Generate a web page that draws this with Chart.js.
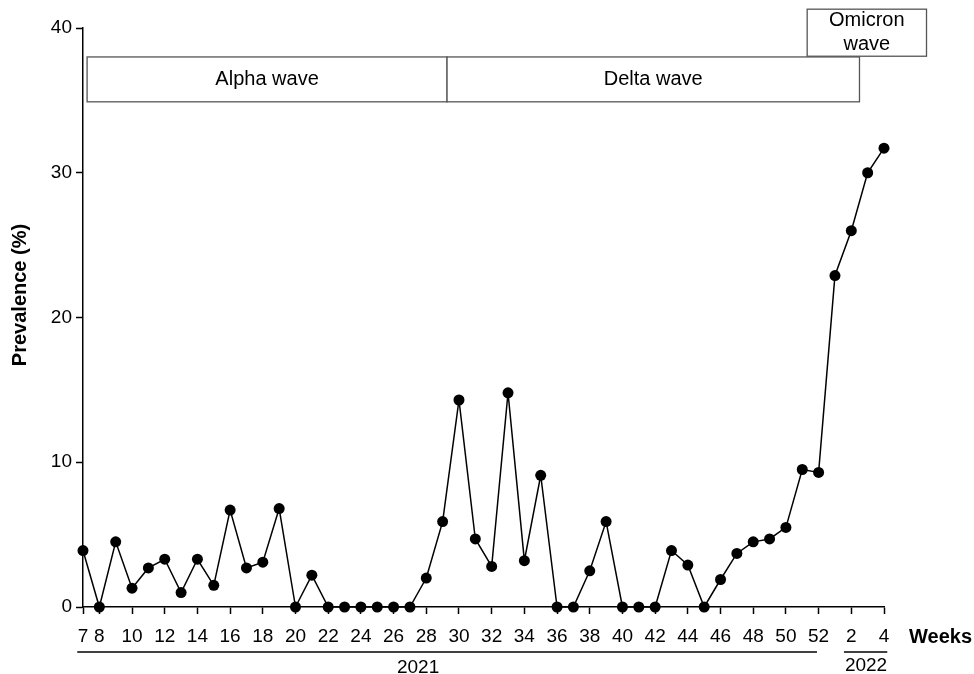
<!DOCTYPE html>
<html>
<head>
<meta charset="utf-8">
<script src="https://cdn.jsdelivr.net/npm/chart.js@4"></script>
<style>
  html, body { margin: 0; padding: 0; background: #fff; }
  #wrap { width: 974px; height: 674px; position: relative; }
</style>
</head>
<body>
<div id="wrap"><canvas id="prevChart"></canvas></div>
<script>
// Week numbers, 2021 week 7 .. 2022 week 4
const weeks = ['7','8','9','10','11','12','13','14','15','16','17','18','19','20','21','22','23','24','25','26',
  '27','28','29','30','31','32','33','34','35','36','37','38','39','40','41','42','43','44','45','46',
  '47','48','49','50','51','52','1','2','3','4'];

// Prevalence (%) per week
const prevalence = [3.9, 0, 4.5, 1.3, 2.7, 3.3, 1.0, 3.3, 1.5, 6.7, 2.7, 3.1, 6.8, 0, 2.2, 0, 0, 0, 0, 0,
  0, 2.0, 5.9, 14.3, 4.7, 2.8, 14.8, 3.2, 9.1, 0, 0, 2.5, 5.9, 0, 0, 0, 3.9, 2.9, 0, 1.9,
  3.7, 4.5, 4.7, 5.5, 9.5, 9.3, 22.9, 26.0, 30.0, 31.7];

// Which week labels get a tick + label on the x axis
const shownWeeks = ['7','8','10','12','14','16','18','20','22','24','26','28','30','32','34','36','38','40',
  '42','44','46','48','50','52','2','4'];

// Wave periods (x in week index units, y in % units)
const waveNames = ['Alpha wave', 'Delta wave', 'Omicron\nwave'];
const waveStart = [0.25, 22.27, 44.3];
const waveEnd = [22.27, 47.5, 51.6];
const waveLow = [34.9, 34.9, 38.05];
const waveHigh = [38.0, 38.0, 41.3];

// Year brackets under the x axis (week index units)
const yearNames = ['2021', '2022'];
const yearStart = [-0.35, 46.55];
const yearEnd = [44.9, 49.2];
const yearMid = [20.5, 47.9];

const FONT = '"Liberation Sans", Arial, Helvetica, sans-serif';

const annotations = {
    id: 'annotations',
    afterDraw(chart) {
        const ctx = chart.ctx;
        const xs = chart.scales.x;
        const ys = chart.scales.y;
        ctx.save();

        // wave boxes
        ctx.font = '20px ' + FONT;
        ctx.textAlign = 'center';
        ctx.textBaseline = 'middle';
        for (let i = 0; i < waveNames.length; i++) {
            const x1 = xs.getPixelForValue(waveStart[i]);
            const x2 = xs.getPixelForValue(waveEnd[i]);
            const y1 = ys.getPixelForValue(waveHigh[i]);
            const y2 = ys.getPixelForValue(waveLow[i]);
            ctx.fillStyle = '#fff';
            ctx.fillRect(x1, y1, x2 - x1, y2 - y1);
            ctx.strokeStyle = '#555';
            ctx.lineWidth = 1.3;
            ctx.strokeRect(x1, y1, x2 - x1, y2 - y1);
            ctx.fillStyle = '#000';
            const lines = waveNames[i].split('\n');
            const cx = (x1 + x2) / 2;
            const cy = (y1 + y2) / 2;
            lines.forEach((t, k) => {
                ctx.fillText(t, cx, cy + (k - (lines.length - 1) / 2) * 24);
            });
        }

        // year brackets
        const lineY = 652;
        ctx.strokeStyle = '#000';
        ctx.lineWidth = 1.3;
        for (let i = 0; i < yearNames.length; i++) {
            const x1 = xs.getPixelForValue(yearStart[i]);
            const x2 = xs.getPixelForValue(yearEnd[i]);
            ctx.beginPath();
            ctx.moveTo(x1, lineY);
            ctx.lineTo(x2, lineY);
            ctx.stroke();
        }
        ctx.fillStyle = '#000';
        ctx.font = '19px ' + FONT;
        ctx.textBaseline = 'middle';
        ctx.fillText(yearNames[0], xs.getPixelForValue(yearMid[0]), 668);
        ctx.fillText(yearNames[1], xs.getPixelForValue(yearMid[1]), 666);

        // axis titles
        ctx.font = 'bold 20px ' + FONT;
        ctx.textAlign = 'left';
        ctx.fillText('Weeks', 909, 637);

        ctx.translate(20, 295);
        ctx.rotate(-Math.PI / 2);
        ctx.textAlign = 'center';
        ctx.fillText('Prevalence (%)', 0, 0);
        ctx.restore();
    }
};

const tickColor = (c) => shownWeeks.includes(weeks[c.index]) ? '#000' : 'rgba(0,0,0,0)';

new Chart(document.getElementById('prevChart'), {
    type: 'line',
    data: {
        labels: weeks,
        datasets: [{
            data: prevalence,
            borderColor: '#000',
            borderWidth: 1.5,
            pointRadius: 5.5,
            pointBackgroundColor: '#000',
            pointBorderColor: '#000',
            pointBorderWidth: 0,
            tension: 0,
            clip: false
        }]
    },
    options: {
        responsive: true,
        maintainAspectRatio: false,
        animation: false,
        layout: { padding: { left: 0, top: 28, right: 90, bottom: 0 } },
        plugins: {
            legend: { display: false },
            tooltip: { enabled: false }
        },
        scales: {
            x: {
                type: 'category',
                offset: false,
                afterFit: (s) => { s.height = 67; },
                border: { display: true, color: '#000', width: 1.5 },
                grid: {
                    display: true,
                    drawOnChartArea: false,
                    drawTicks: true,
                    tickLength: 7,
                    color: tickColor,
                    tickColor: tickColor,
                    tickWidth: 1.5
                },
                ticks: {
                    autoSkip: false,
                    maxRotation: 0,
                    padding: 11,
                    color: '#000',
                    font: { family: FONT, size: 19 },
                    callback: function(value, index) {
                        const w = weeks[index];
                        return shownWeeks.includes(w) ? w : '';
                    }
                }
            },
            y: {
                min: 0,
                max: 40,
                afterFit: (s) => { s.width = 83; },
                border: { display: true, color: '#000', width: 1.5 },
                grid: {
                    display: true,
                    drawOnChartArea: false,
                    drawTicks: true,
                    tickLength: 7,
                    color: '#000',
                    tickWidth: 1.5
                },
                ticks: {
                    stepSize: 10,
                    padding: 4,
                    color: '#000',
                    font: { family: FONT, size: 19 }
                }
            }
        }
    },
    plugins: [annotations]
});
</script>
</body>
</html>
